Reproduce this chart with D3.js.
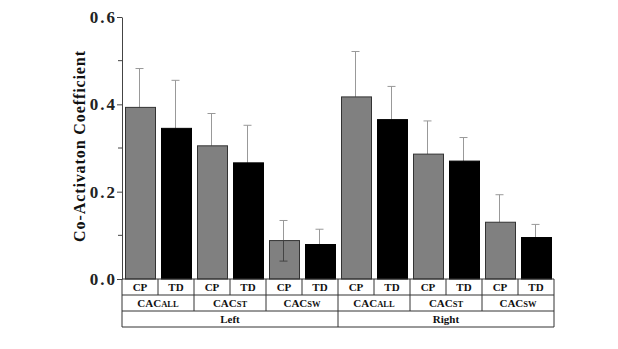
<!DOCTYPE html>
<html>
<head>
<meta charset="utf-8">
<script src="https://cdn.jsdelivr.net/npm/d3@7"></script>
<style>
  body { margin: 0; background: #fff; }
  text { font-family: "Liberation Serif", "DejaVu Serif", serif; font-weight: bold; }
</style>
</head>
<body>
<svg id="chart"></svg>
<script>
// data
const sides = ["Left", "Right"];
const measures = [["CAC", "ALL"], ["CAC", "ST"], ["CAC", "SW"]];
const groups = ["CP", "TD"];
const means = [0.393, 0.345, 0.305, 0.266, 0.088, 0.079,
               0.417, 0.365, 0.286, 0.270, 0.130, 0.095];
const upper = [0.482, 0.455, 0.379, 0.352, 0.134, 0.114,
               0.521, 0.441, 0.362, 0.324, 0.193, 0.125];
const lower = [null, null, null, null, 0.041, null,
               null, null, null, null, null, null];
const yTicks = [0, 0.2, 0.4, 0.6];
const yMinor = [0.1, 0.3, 0.5];

const W = 618, H = 349;
const svg = d3.select("#chart").attr("width", W).attr("height", H);

const x0 = 122, x1 = 554, yTop = 17, yBot = 279, rowH = 16;

const cells = [];
sides.forEach(s => measures.forEach(m => groups.forEach(g => {
  cells.push({ key: s + m[1] + g, side: s, m: m, g: g });
})));
cells.forEach((c, i) => { c.mean = means[i]; c.up = upper[i]; c.lo = lower[i]; });

const x = d3.scaleBand().domain(cells.map(c => c.key)).range([x0, x1]);
const y = d3.scaleLinear().domain([0, 0.6]).range([yBot, yTop]);
const bw = x.bandwidth();

// error bars (drawn under bars)
const err = svg.append("g").attr("stroke", "#999").attr("stroke-width", 1);
cells.forEach(c => {
  const cx = x(c.key) + bw / 2 - 0.5;
  err.append("line").attr("x1", cx).attr("x2", cx).attr("y1", y(c.mean)).attr("y2", y(c.up));
  err.append("line").attr("x1", cx - 4).attr("x2", cx + 4).attr("y1", y(c.up)).attr("y2", y(c.up));
});

// bars
svg.append("g").selectAll("rect")
  .data(cells)
  .enter()
  .append("rect")
  .attr("x", d => x(d.key) + 3.5)
  .attr("width", bw - 6)
  .attr("y", d => y(d.mean))
  .attr("height", d => y(0) - y(d.mean))
  .attr("fill", d => d.g === "CP" ? "#808080" : "#000")
  .attr("stroke", d => d.g === "CP" ? "#333" : "#000")
  .attr("stroke-width", 1);

// lower error segment shown inside the bar
cells.filter(c => c.lo !== null).forEach(c => {
  const cx = x(c.key) + bw / 2 - 0.5;
  svg.append("line").attr("x1", cx).attr("x2", cx).attr("y1", y(c.mean)).attr("y2", y(c.lo))
    .attr("stroke", "#444").attr("stroke-width", 1);
  svg.append("line").attr("x1", cx - 4).attr("x2", cx + 4).attr("y1", y(c.lo)).attr("y2", y(c.lo))
    .attr("stroke", "#444").attr("stroke-width", 1);
});

// y axis
const yAxis = svg.append("g")
  .attr("transform", `translate(${x0},0)`)
  .call(d3.axisLeft(y).tickValues(yTicks).tickFormat(d3.format(".1f")).tickSize(5).tickSizeOuter(0));
yAxis.select(".domain").attr("stroke", "#444");
yAxis.selectAll(".tick line").attr("stroke", "#444");
yAxis.selectAll("text")
  .attr("font-size", 17).attr("letter-spacing", 2).attr("fill", "#222")
  .attr("font-family", "Liberation Serif, serif").attr("font-weight", "bold")
  .attr("x", -5);
yAxis.selectAll(".minor").data(yMinor).enter().append("line")
  .attr("x1", -4).attr("x2", 0).attr("y1", d => y(d)).attr("y2", d => y(d))
  .attr("stroke", "#444");

svg.append("text")
  .attr("transform", `translate(85,146) rotate(-90)`)
  .attr("text-anchor", "middle")
  .attr("font-size", 16)
  .attr("letter-spacing", 0.9)
  .attr("fill", "#111")
  .text("Co-Activaton Coefficient");

// category table
const tbl = svg.append("g");
const lineC = "#333";
const hline = yy => tbl.append("line").attr("x1", x0).attr("x2", x1)
  .attr("y1", yy).attr("y2", yy).attr("stroke", lineC);
hline(yBot); hline(yBot + rowH); hline(yBot + 2 * rowH); hline(yBot + 3 * rowH);
const vline = (xx, ya, yb) => tbl.append("line").attr("x1", xx).attr("x2", xx)
  .attr("y1", ya).attr("y2", yb).attr("stroke", lineC);

// row 1: groups
cells.forEach(c => {
  vline(x(c.key), yBot, yBot + rowH);
  tbl.append("text").attr("x", x(c.key) + bw / 2).attr("y", yBot + 12)
    .attr("text-anchor", "middle").attr("font-size", 11).attr("fill", "#111").text(c.g);
});
vline(x1, yBot, yBot + 3 * rowH);

// row 2: measures
cells.filter(c => c.g === "CP").forEach(c => {
  vline(x(c.key), yBot + rowH, yBot + 2 * rowH);
  const t = tbl.append("text").attr("x", x(c.key) + bw).attr("y", yBot + rowH + 12)
    .attr("text-anchor", "middle").attr("fill", "#111");
  t.append("tspan").attr("font-size", 11).text(c.m[0]);
  t.append("tspan").attr("font-size", 8.5).text(c.m[1]);
});

// row 3: sides
sides.forEach(s => {
  const first = cells.find(c => c.side === s);
  vline(x(first.key), yBot + 2 * rowH, yBot + 3 * rowH);
  tbl.append("text").attr("x", x(first.key) + bw * 3).attr("y", yBot + 2 * rowH + 12)
    .attr("text-anchor", "middle").attr("font-size", 11).attr("fill", "#111").text(s);
});
</script>
</body>
</html>
